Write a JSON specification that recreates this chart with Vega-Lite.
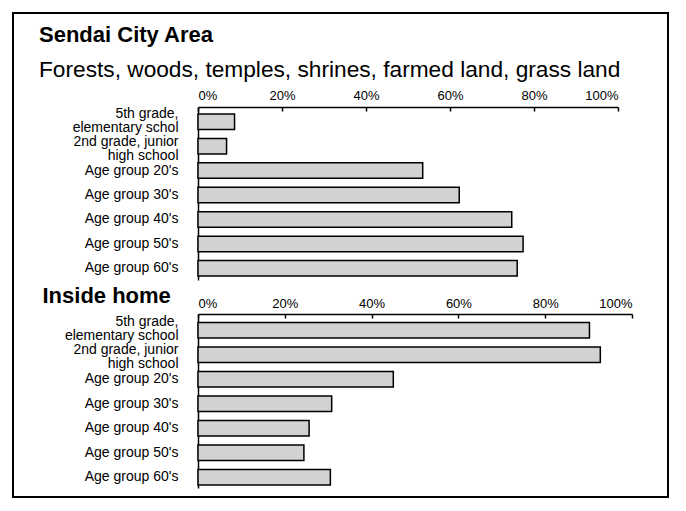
{
  "$schema": "https://vega.github.io/schema/vega-lite/v6.json",
  "width": 655,
  "height": 484,
  "autosize": {"type": "none"},
  "padding": {"left": 13, "top": 13, "right": 18, "bottom": 14},
  "background": "white",
  "title": {
    "text": "Sendai City Area",
    "subtitle": "Forests, woods, temples, shrines, farmed land, grass land",
    "anchor": "start",
    "frame": "group",
    "dx": 26,
    "offset": -70,
    "font": "Liberation Sans",
    "fontSize": 22,
    "fontWeight": "bold",
    "color": "black",
    "subtitleFont": "Liberation Sans",
    "subtitleFontSize": 22.7,
    "subtitleColor": "black",
    "subtitlePadding": 12
  },
  "datasets": {
    "city": [
      {"group": "5th grade,|elementary schol", "share": 0.087},
      {"group": "2nd grade, junior|high school", "share": 0.068},
      {"group": "Age group 20's", "share": 0.535},
      {"group": "Age group 30's", "share": 0.622},
      {"group": "Age group 40's", "share": 0.747},
      {"group": "Age group 50's", "share": 0.774},
      {"group": "Age group 60's", "share": 0.760}
    ],
    "home": [
      {"group": "5th grade,|elementary school", "share": 0.902},
      {"group": "2nd grade, junior|high school", "share": 0.927},
      {"group": "Age group 20's", "share": 0.450},
      {"group": "Age group 30's", "share": 0.308},
      {"group": "Age group 40's", "share": 0.256},
      {"group": "Age group 50's", "share": 0.244},
      {"group": "Age group 60's", "share": 0.305}
    ]
  },
  "layer": [
    {
      "data": {"name": "city"},
      "mark": {"type": "bar", "fill": "#d2d2d2", "stroke": "black", "strokeWidth": 1.5},
      "encoding": {
        "x": {
          "field": "share",
          "type": "quantitative",
          "scale": {"domain": [0, 1], "range": [185, 605], "nice": false},
          "axis": {
            "orient": "top",
            "offset": -94,
            "title": null,
            "values": [0, 0.2, 0.4, 0.6, 0.8, 1],
            "format": ".0%",
            "grid": false,
            "tickSize": -4,
            "labelPadding": 9,
            "labelFont": "Liberation Sans",
            "labelFontSize": 13,
            "labelColor": "black",
            "domainColor": "black",
            "domainWidth": 1.5,
            "tickColor": "black",
            "tickWidth": 1.5
          }
        },
        "y": {
          "field": "group",
          "type": "nominal",
          "sort": null,
          "scale": {"range": [94, 267], "paddingInner": 0.365, "paddingOuter": 0.223, "align": 0.64},
          "axis": {
            "orient": "left",
            "offset": -185,
            "title": null,
            "ticks": false,
            "labelPadding": 20,
            "labelExpr": "split(datum.label, '|')",
            "labelLineHeight": 14,
            "labelOffset": {
              "condition": [
                {"test": "indexof(datum.value, '5th') === 0", "value": -8},
                {"test": "indexof(datum.value, '2nd') === 0", "value": -4.5}
              ],
              "value": 0
            },
            "labelFont": "Liberation Sans",
            "labelFontSize": 14,
            "labelColor": "black",
            "domainColor": "black",
            "domainWidth": 1.5
          }
        }
      }
    },
    {
      "data": {"name": "home"},
      "mark": {"type": "bar", "fill": "#d2d2d2", "stroke": "black", "strokeWidth": 1.5},
      "encoding": {
        "x": {
          "field": "share",
          "type": "quantitative",
          "scale": {"domain": [0, 1], "range": [185, 619], "nice": false},
          "axis": {
            "orient": "top",
            "offset": -301,
            "title": null,
            "values": [0, 0.2, 0.4, 0.6, 0.8, 1],
            "format": ".0%",
            "grid": false,
            "tickSize": -4,
            "labelPadding": 8,
            "labelFont": "Liberation Sans",
            "labelFontSize": 13,
            "labelColor": "black",
            "domainColor": "black",
            "domainWidth": 1.5,
            "tickColor": "black",
            "tickWidth": 1.5
          }
        },
        "y": {
          "field": "group",
          "type": "nominal",
          "sort": null,
          "scale": {"range": [301, 475], "paddingInner": 0.36, "paddingOuter": 0.231, "align": 0.74},
          "axis": {
            "orient": "left",
            "offset": -185,
            "title": "Inside home",
            "titleAngle": 0,
            "titleAlign": "left",
            "titleBaseline": "alphabetic",
            "titleX": -156,
            "titleY": 289,
            "titleFont": "Liberation Sans",
            "titleFontSize": 22,
            "titleFontWeight": "bold",
            "titleColor": "black",
            "ticks": false,
            "labelPadding": 20,
            "labelExpr": "split(datum.label, '|')",
            "labelLineHeight": 14,
            "labelOffset": {
              "condition": [
                {"test": "indexof(datum.value, '5th') === 0", "value": -8},
                {"test": "indexof(datum.value, '2nd') === 0", "value": -4.5}
              ],
              "value": 0
            },
            "labelFont": "Liberation Sans",
            "labelFontSize": 14,
            "labelColor": "black",
            "domainColor": "black",
            "domainWidth": 1.5
          }
        }
      }
    }
  ],
  "resolve": {
    "scale": {"x": "independent", "y": "independent"},
    "axis": {"x": "independent", "y": "independent"}
  },
  "config": {
    "view": {"stroke": "black", "strokeWidth": 2, "fill": "white"}
  }
}
